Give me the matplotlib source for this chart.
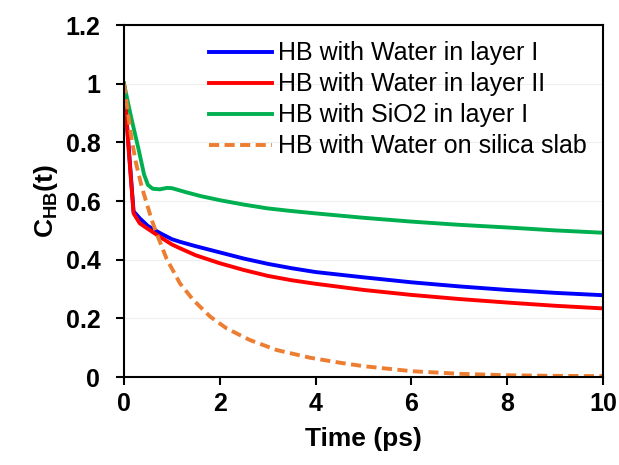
import matplotlib
matplotlib.use("Agg")
import matplotlib.pyplot as plt

# values
t_blue = [0, 0.1, 0.2, 0.33, 0.5, 0.75, 1.0, 1.17, 1.5, 2, 2.5, 3, 3.5, 4, 5, 6, 7, 8, 9, 10]
c_blue = [1.0, 0.78, 0.565, 0.541, 0.515, 0.491, 0.470, 0.461, 0.446, 0.425, 0.404, 0.386, 0.371, 0.358,
          0.34, 0.323, 0.309, 0.297, 0.287, 0.279]

t_red = [0, 0.1, 0.2, 0.33, 0.5, 0.75, 1.0, 1.17, 1.5, 2, 2.5, 3, 3.5, 4, 5, 6, 7, 8, 9, 10]
c_red = [1.0, 0.77, 0.558, 0.524, 0.505, 0.478, 0.452, 0.439, 0.415, 0.388, 0.365, 0.345, 0.33, 0.318,
         0.297, 0.28, 0.266, 0.254, 0.243, 0.234]

t_green = [0, 0.15, 0.3, 0.42, 0.5, 0.6, 0.75, 0.9, 1.0, 1.3, 1.6, 2, 2.5, 3, 3.5, 4, 5, 6, 7, 8, 9, 10]
c_green = [1.0, 0.885, 0.78, 0.69, 0.655, 0.642, 0.64, 0.645, 0.644, 0.63, 0.617, 0.603, 0.588, 0.575,
           0.566, 0.558, 0.543, 0.53, 0.519, 0.51, 0.5, 0.492]

t_orange = [0, 0.15, 0.25, 0.37, 0.58, 0.68, 0.89, 1.17, 1.45, 1.8, 2.14, 2.63, 3.19, 3.88, 4.5, 5, 6, 7,
            8, 9, 10]
c_orange = [1.0, 0.82, 0.73, 0.649, 0.535, 0.49, 0.403, 0.319, 0.262, 0.206, 0.166, 0.126, 0.092, 0.066,
            0.049, 0.037, 0.02, 0.011, 0.006, 0.004, 0.003]

labels = ["HB with Water in layer I", "HB with Water in layer II",
          "HB with SiO2 in layer I", "HB with Water on silica slab"]

plt.rcParams['font.family'] = ['Liberation Sans', 'DejaVu Sans']
plt.rcParams['mathtext.fontset'] = 'custom'
plt.rcParams['mathtext.rm'] = 'Liberation Sans:bold'
plt.rcParams['mathtext.it'] = 'Liberation Sans:bold'
plt.rcParams['mathtext.bf'] = 'Liberation Sans:bold'

fig = plt.figure(figsize=(6.19, 4.65), dpi=100)
ax = fig.add_axes([0.2003, 0.1892, 0.7737, 0.7568])

lw = 2.8
ax.plot(t_blue, c_blue, color='#0000FF', lw=lw, label=labels[0])
ax.plot(t_red, c_red, color='#FF0000', lw=lw, label=labels[1])
ax.plot(t_green, c_green, color='#00B050', lw=lw, label=labels[2])
ax.plot(t_orange, c_orange, color='#ED7D31', lw=lw, ls=(0, (2.6, 1.4)), label=labels[3])

ax.set_xlim(0, 10)
ax.set_ylim(0, 1.2)
ax.set_xticks([0, 2, 4, 6, 8, 10])
ax.set_yticks([0, 0.2, 0.4, 0.6, 0.8, 1.0, 1.2])
ax.set_yticklabels(['0', '0.2', '0.4', '0.6', '0.8', '1', '1.2'])
ax.grid(axis='y', color='#EFEFEF', lw=0.8)
ax.set_axisbelow(True)

for s in ax.spines.values():
    s.set_linewidth(1.5)
ax.tick_params(axis='both', direction='out', length=6, width=1.5, labelsize=18)
ax.tick_params(axis='y', pad=11)
ax.tick_params(axis='x', pad=5)
for lb in ax.get_xticklabels() + ax.get_yticklabels():
    lb.set_fontweight('bold')

ax.set_xlabel('Time (ps)', fontsize=19, fontweight='bold', labelpad=8)
ax.set_ylabel(r'$\mathrm{C_{HB}(t)}$', fontsize=19, labelpad=4)

ax.legend(loc='upper right', frameon=False, fontsize=18, handlelength=2.5,
          handletextpad=0.25, labelspacing=0.28, borderaxespad=0.25,
          bbox_to_anchor=(1.0, 1.0))

fig.savefig('out.png', dpi=100)
